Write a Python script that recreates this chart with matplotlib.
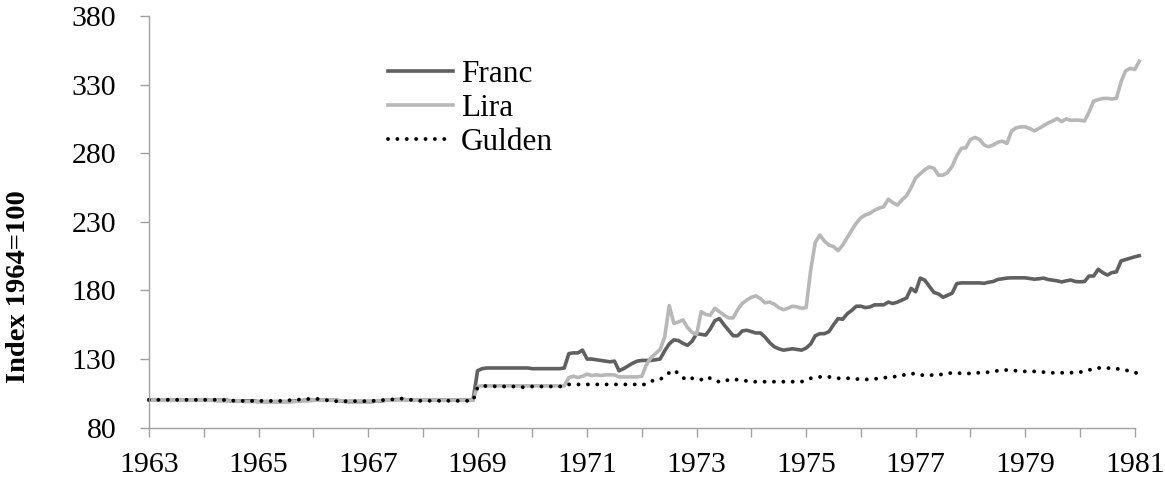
import numpy as np
import matplotlib
matplotlib.use("Agg")
import matplotlib.pyplot as plt
from matplotlib.ticker import MultipleLocator

plt.rcParams['font.family'] = ['Liberation Serif', 'DejaVu Serif']

# monthly index values, Jan 1963 .. Feb 1981 (1964=100)
franc = (
    [100, 100, 100, 100, 100, 100, 100, 100, 100, 100, 100, 100] +          # 1963
    [100, 100, 100, 100, 100, 100, 99.5, 99.5, 99.5, 99.5, 99.5, 99.5] +    # 1964
    [99, 99, 99, 99, 99, 99, 99, 99, 99.5, 99.5, 100, 100] +                # 1965
    [100, 100, 100, 100, 100, 100, 99.5, 99, 99, 99, 99, 99] +              # 1966
    [99, 99, 99.5, 99.5, 100, 100, 100.5, 100.5, 100.5, 100, 100, 100] +    # 1967
    [100, 100, 100, 100, 100, 100, 100, 100, 100, 100, 100, 100] +          # 1968
    [121.5, 123, 123.5, 123.5, 123.5, 123.5, 123.5, 123.5, 123.5, 123.5, 123.5, 123.5] +  # 1969
    [123, 123, 123, 123, 123, 123, 123, 123.5, 134, 134.5, 134.5, 136.5] +  # 1970
    [130, 130, 129.5, 129, 128.5, 128, 128.5, 121.5, 123, 125, 127, 128.5] +  # 1971
    [129, 129, 129, 129.5, 130, 136, 141, 144, 143.5, 141.5, 140, 143] +    # 1972
    [148.5, 148, 147.5, 152, 158, 159.5, 155, 151, 147, 147, 150.5, 151] +  # 1973
    [150, 149, 149, 146, 142, 139, 137.5, 136.5, 137, 137.5, 137, 136.5] +  # 1974
    [138, 141, 147, 148.5, 148.5, 150, 155, 159.5, 159, 163, 165.5, 168.5] +  # 1975
    [168.5, 167.5, 168, 169.5, 169.5, 169.5, 171.5, 170.5, 171.5, 173, 174.5, 181.5] +  # 1976
    [179, 189, 187.5, 183, 178.5, 177.5, 175, 176.5, 178, 185, 185.5, 185.5] +  # 1977
    [185.5, 185.5, 185.5, 185.2, 186, 186.5, 188, 188.5, 189, 189.2, 189.2, 189.2] +  # 1978
    [189.2, 188.7, 188.2, 188.5, 189, 188, 187.5, 187, 186.2, 187, 187.6, 186.5] +  # 1979
    [186.3, 186.5, 190.5, 190.5, 195.4, 193, 191.2, 193, 193.6, 201.5, 202.5, 203.5] +  # 1980
    [204.5, 205.3]                                                          # 1981
)

lira = (
    [100, 100, 100, 100, 100, 100, 100, 100, 100, 100, 100, 100] +
    [100, 100, 100, 99.5, 99.5, 99.5, 99.5, 99.5, 99.5, 99, 99, 99] +
    [99, 99, 99, 99, 99, 99, 99, 99, 99, 99.5, 99.5, 99.5] +
    [100, 100, 100, 100, 100, 100, 99.5, 99.5, 99.5, 99.5, 99.5, 99.5] +
    [99.5, 99.5, 99.5, 100, 100, 100, 100, 100.5, 100.5, 100, 100, 100] +
    [100, 100, 100, 100, 100, 100, 100, 100, 100, 100, 100, 100] +
    [110, 110.5, 110.5, 110.5, 110.5, 110.5, 110.5, 110.5, 110.5, 110.5, 110.5, 110.5] +
    [110.5, 110.5, 110.5, 110.5, 110.5, 110.5, 110.5, 110.5, 116.5, 117.5, 116.5, 117.5] +
    [119, 118, 118.5, 118, 118.5, 118.5, 118.5, 117, 117, 117, 117, 117] +
    [117.5, 126, 131, 134, 137, 146, 169, 156, 157, 158.5, 153, 149.5] +
    [148, 164.5, 162.5, 162, 167, 164.5, 162, 160, 160, 166, 170.5, 173] +
    [175, 176, 174, 171, 171.5, 170, 167.5, 166, 167, 168.5, 168, 167] +
    [167.5, 195, 215, 220.4, 216, 213, 212, 209, 213, 218.5, 224, 229] +
    [233, 235, 236.2, 238.5, 240, 241, 246.5, 244, 242.2, 246, 249, 255] +
    [262, 265, 268, 270, 269, 264, 264, 266, 270.5, 278, 283.5, 284] +
    [290, 291.5, 290, 286, 284.7, 286, 288, 288.8, 287.1, 296, 298.5, 299.2] +
    [299.2, 298, 296.3, 298, 300, 302, 303.5, 305.3, 303, 305, 304, 304.1] +
    [304, 303.5, 310, 318, 319, 319.9, 320, 319.5, 320, 332, 340, 341.8] +
    [341, 347]
)

gulden = (
    [100.3, 100.3, 100.3, 100.3, 100.3, 100.3, 100.3, 100.3, 100.3, 100.3, 100.3, 100.3] +
    [100.3, 100.3, 100.3, 100.3, 100.3, 100, 99.8, 99.6, 99.5, 99.5, 99.5, 99.5] +
    [99.5, 99.5, 99.5, 99.5, 99.5, 99.5, 99.8, 100, 100.3, 100.5, 100.9, 100.9] +
    [100.9, 100.9, 100.5, 100, 99.5, 99.3, 99.3, 99.3, 99.3, 99.3, 99.3, 99.3] +
    [99.3, 99.5, 99.8, 100, 100.3, 100.5, 100.8, 101.3, 101, 100.5, 100, 99.6] +
    [99.6, 99.6, 99.6, 99.6, 99.6, 99.6, 99.6, 99.6, 99.6, 99.6, 99.6, 99.6] +
    [109.5, 110, 110.5, 110.5, 110, 110, 110, 110, 110, 109.5, 109.5, 110] +
    [110, 110, 110, 110, 110, 110, 110, 110, 111.5, 111.5, 111.5, 111.5] +
    [111.5, 111.5, 111.5, 111.5, 111.5, 111.5, 111.5, 111.5, 111.5, 111.5, 111.5, 111.5] +
    [111, 112, 114, 114.5, 115, 118, 120, 122, 119.5, 116.5, 114.5, 116] +
    [115, 115, 117, 116, 114, 113.5, 113.5, 115, 115, 115, 114.5, 114] +
    [113.5, 113.5, 113.5, 113.5, 113.5, 113.5, 113.5, 113.5, 113.5, 113.5, 113.5, 113.5] +
    [114.5, 116, 116.5, 117, 117, 117, 116.5, 116, 116, 116, 116, 115.5] +
    [115.2, 115.2, 115.2, 115.5, 116, 116.5, 116.5, 117, 117.5, 118, 119, 119.6] +
    [119, 118.3, 118.3, 118.3, 118.3, 118.5, 119, 119.5, 120, 120, 119.5, 119.5] +
    [119.5, 120, 120, 120, 120.5, 121, 121.5, 122, 122, 121.5, 121.5, 121] +
    [121, 121, 121, 120.5, 120.5, 120.5, 120, 120, 120, 120, 120, 120.5] +
    [120.5, 121, 122, 123, 123.5, 123.5, 123.5, 123, 123, 122.5, 122, 121] +
    [120, 119.8]
)

months = 1963 + np.arange(len(franc)) / 12.0

fig = plt.figure(figsize=(11.65, 4.8), dpi=100)
ax = fig.add_axes([0.1279, 0.109, 0.8461, 0.8577])

ax.plot(months, franc, color='#606060', lw=2.6, label='Franc', clip_on=False)
ax.plot(months, lira, color='#b7b7b7', lw=2.6, label='Lira', clip_on=False)
ax.plot(months, gulden, color='black', lw=2.8, linestyle=(0, (0.01, 2.4)),
        dash_capstyle='round', label='Gulden', clip_on=False)

ax.set_xlim(1963, 1981)
ax.set_ylim(80, 380)
ax.set_yticks(range(80, 381, 50))
ax.set_xticks(range(1963, 1982, 2))
ax.xaxis.set_minor_locator(MultipleLocator(1))

for side in ['top', 'right']:
    ax.spines[side].set_visible(False)
for side in ['left', 'bottom']:
    ax.spines[side].set_color('#a0a0a0')
    ax.spines[side].set_linewidth(1.0)

ax.tick_params(axis='both', which='both', color='#a0a0a0', width=1.0, length=6.5,
               direction='out', labelsize=21.5)
ax.tick_params(axis='y', pad=17)
ax.tick_params(axis='x', pad=11)

fig.text(0.016, 0.403, 'Index 1964=100', rotation=90, ha='center', va='center',
         fontsize=20.5, fontweight='bold')

ax.legend(loc='upper left', bbox_to_anchor=(0.242, 0.893), frameon=False,
          fontsize=22.5, handlelength=2.1, handletextpad=0.25, labelspacing=0.16,
          borderpad=0, borderaxespad=0)

fig.savefig('out.png', dpi=100)
